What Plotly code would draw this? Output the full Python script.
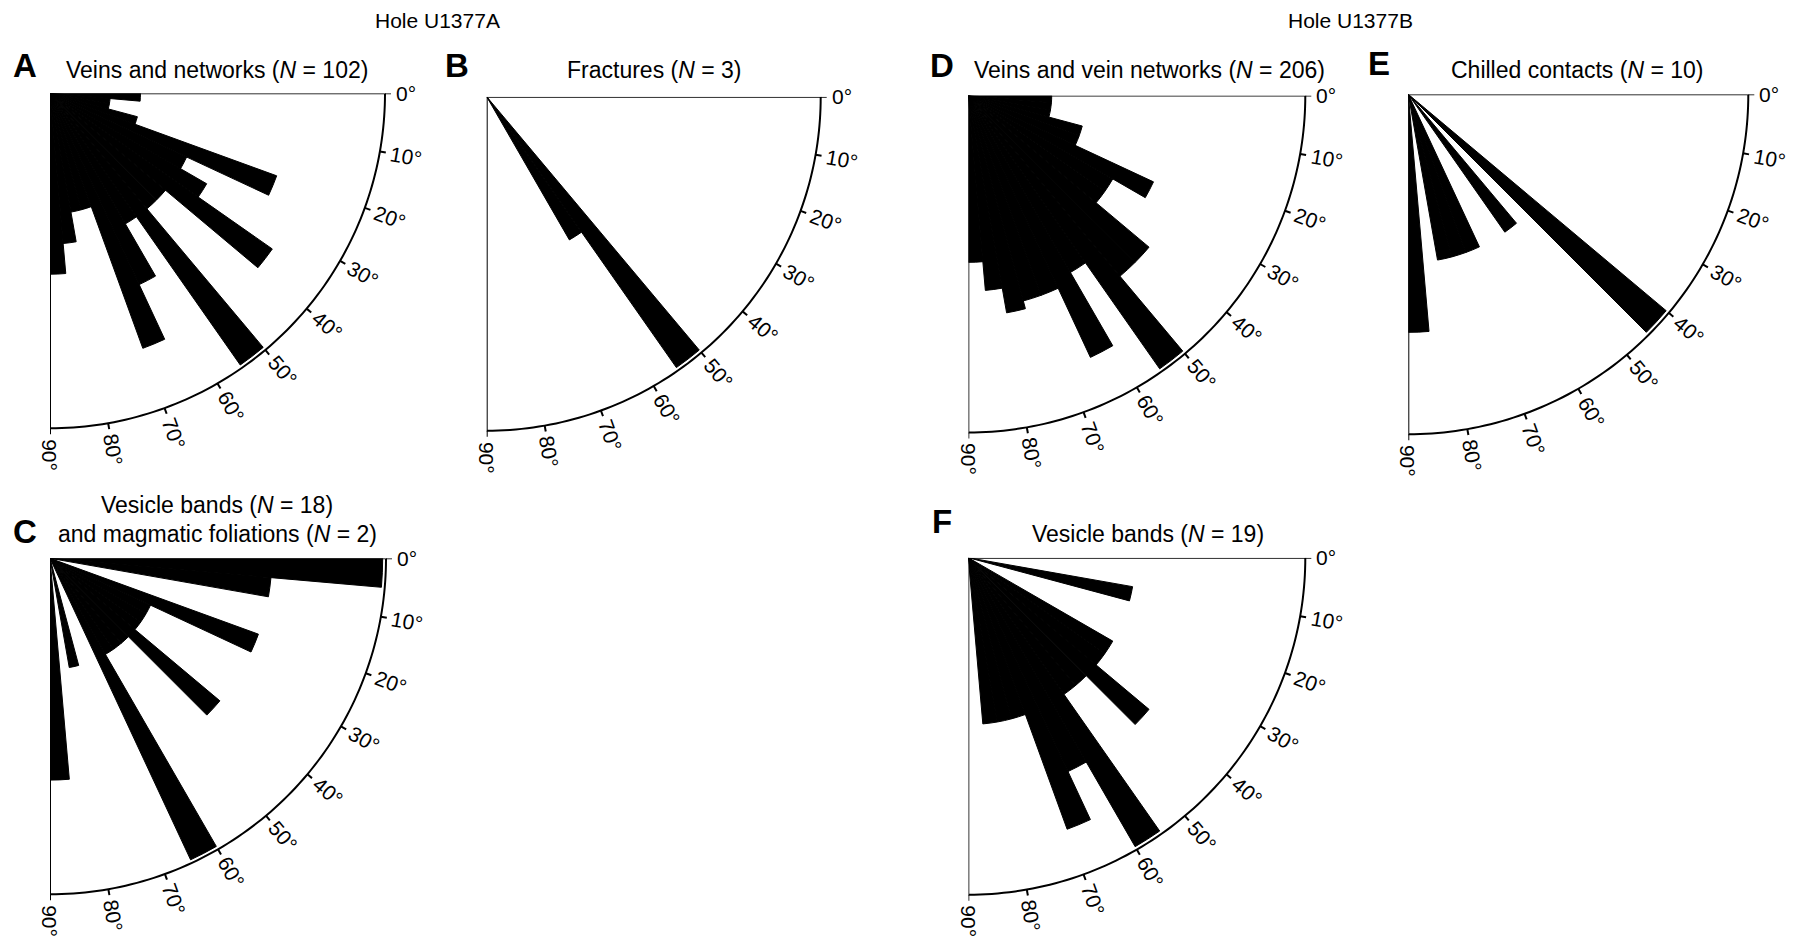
import math
import plotly.graph_objects as go

W, H = 1799, 941
FONT = "Liberation Sans, Arial, Helvetica, sans-serif"

# 5-degree dip bins, 0-90 degrees
bin_centers = [2.5, 7.5, 12.5, 17.5, 22.5, 27.5, 32.5, 37.5, 42.5,
               47.5, 52.5, 57.5, 62.5, 67.5, 72.5, 77.5, 82.5, 87.5]
BIN_WIDTH = 5
angle_ticks = [0, 10, 20, 30, 40, 50, 60, 70, 80, 90]
angle_tick_text = ["0°", "10°", "20°", "30°", "40°", "50°", "60°", "70°", "80°", "90°"]

# counts per bin
veins_a = [3, 2, 2, 3, 8, 5, 6, 9, 5, 5, 11, 5, 7, 9, 4, 4, 5, 6]
fractures_a = [0, 0, 0, 0, 0, 0, 0, 0, 0, 0, 2, 1, 0, 0, 0, 0, 0, 0]
vesicles_foliations_a = [3, 2, 0, 0, 2, 1, 1, 1, 2, 1, 1, 1, 3, 0, 0, 1, 0, 2]
veins_b = [2, 2, 2, 4, 4, 12, 8, 8, 16, 16, 32, 12, 24, 13, 13, 14, 11, 8]
chilled_b = [0, 0, 0, 0, 0, 0, 0, 0, 4, 0, 1, 0, 0, 1, 1, 1, 0, 2]
vesicles_b = [0, 0, 1, 0, 0, 0, 1, 1, 2, 1, 1, 4, 2, 3, 1, 1, 1, 0]

# Hole U1377A roses use a linear radius, Hole U1377B roses are equal-area
panels = [
    dict(letter="A", counts=veins_a, scale="linear",
         title=["Veins and networks (<i>N</i> = 102)"],
         cx=50.0, cy=93.3, R=335, title_xy=(217, 70), letter_xy=(25, 65)),
    dict(letter="B", counts=fractures_a, scale="linear",
         title=["Fractures (<i>N</i> = 3)"],
         cx=486.7, cy=96.7, R=334, title_xy=(654, 70), letter_xy=(457, 65)),
    dict(letter="C", counts=vesicles_foliations_a, scale="linear",
         title=["Vesicle bands (<i>N</i> = 18)", "and magmatic foliations (<i>N</i> = 2)"],
         cx=50.0, cy=558.3, R=336, title_xy=(217, 505), letter_xy=(25, 531)),
    dict(letter="D", counts=veins_b, scale="area",
         title=["Veins and vein networks (<i>N</i> = 206)"],
         cx=968.3, cy=95.5, R=337, title_xy=(1149, 70), letter_xy=(942, 65)),
    dict(letter="E", counts=chilled_b, scale="area",
         title=["Chilled contacts (<i>N</i> = 10)"],
         cx=1408.3, cy=94.3, R=340, title_xy=(1577, 70), letter_xy=(1379, 64)),
    dict(letter="F", counts=vesicles_b, scale="area",
         title=["Vesicle bands (<i>N</i> = 19)"],
         cx=968.3, cy=557.7, R=337, title_xy=(1148, 534), letter_xy=(942, 521)),
]

holes = [("Hole U1377A", 437, 21), ("Hole U1377B", 1350, 21)]
TICK_LEN = 6   # px, outward tick marks on the arc
OUTER_PAD = 8  # px of polar area kept beyond the arc for the ticks

arc_theta = list(range(0, 91))

fig = go.Figure()
annotations = []
layout_polars = {}


def px_to_paper(x, y):
    return x / W, 1 - y / H


for i, p in enumerate(panels):
    key = "polar" if i == 0 else f"polar{i + 1}"
    sub = "polar" if i == 0 else f"polar{i + 1}"
    if p["scale"] == "area":
        radii = [math.sqrt(c) for c in p["counts"]]
    else:
        radii = list(p["counts"])
    cx, cy, R = p["cx"], p["cy"], p["R"]
    r_arc = max(radii) * 1.01          # outer arc of the rose
    per_px = r_arc / R                 # radial units per pixel
    r_range = r_arc + OUTER_PAD * per_px
    r_tick = r_arc + TICK_LEN * per_px

    fig.add_trace(go.Barpolar(
        r=radii, theta=bin_centers, width=[BIN_WIDTH] * len(bin_centers),
        marker=dict(color="black", line=dict(color="black", width=1)),
        subplot=sub, showlegend=False, hoverinfo="skip",
    ))
    # frame: 0° radius, outer arc, 90° radius
    fig.add_trace(go.Scatterpolar(
        r=[0] + [r_arc] * len(arc_theta) + [0],
        theta=[0] + arc_theta + [90],
        mode="lines", line=dict(color="black", width=2),
        cliponaxis=False, subplot=sub, showlegend=False, hoverinfo="skip",
    ))
    # tick marks
    tick_r, tick_t = [], []
    for t in angle_ticks:
        tick_r += [r_arc, r_tick, None]
        tick_t += [t, t, None]
    fig.add_trace(go.Scatterpolar(
        r=tick_r, theta=tick_t, mode="lines",
        line=dict(color="black", width=2), cliponaxis=False,
        subplot=sub, showlegend=False, hoverinfo="skip",
    ))

    Rd = R + OUTER_PAD
    x0, y1 = px_to_paper(cx, cy)
    x1, y0 = px_to_paper(cx + Rd, cy + Rd)
    layout_polars[key] = dict(
        domain=dict(x=[x0, x1], y=[y0, y1]),
        sector=[270, 360],
        bgcolor="rgba(0,0,0,0)",
        bargap=0,
        radialaxis=dict(range=[0, r_range], visible=False),
        angularaxis=dict(
            rotation=0, direction="clockwise",
            showline=False, showgrid=False, ticks="",
            showticklabels=False,
        ),
    )

    # radial tick labels, rotated to read outward along each tick direction
    fs = 21
    for t, txt in zip(angle_ticks, angle_tick_text):
        n_digits = len(txt) - 1
        w = n_digits * 0.556 * fs + 0.4 * fs
        d = R + 11 + w / 2
        a = math.radians(t)
        ax, ay = px_to_paper(cx + d * math.cos(a), cy + d * math.sin(a))
        annotations.append(dict(
            x=ax, y=ay, xref="paper", yref="paper", text=txt, showarrow=False,
            textangle=t, xanchor="center", yanchor="middle",
            font=dict(family=FONT, size=fs, color="black"),
        ))

    # panel title (one or two lines)
    tx, ty = p["title_xy"]
    for k, line in enumerate(p["title"]):
        qx, qy = px_to_paper(tx, ty + 29 * k)
        annotations.append(dict(
            x=qx, y=qy, xref="paper", yref="paper", text=line, showarrow=False,
            xanchor="center", yanchor="middle",
            font=dict(family=FONT, size=23, color="black"),
        ))

    lx, ly = px_to_paper(*p["letter_xy"])
    annotations.append(dict(
        x=lx, y=ly, xref="paper", yref="paper", text=f"<b>{p['letter']}</b>",
        showarrow=False, xanchor="center", yanchor="middle",
        font=dict(family=FONT, size=33, color="black"),
    ))

for label, hx, hy in holes:
    qx, qy = px_to_paper(hx, hy)
    annotations.append(dict(
        x=qx, y=qy, xref="paper", yref="paper", text=label, showarrow=False,
        xanchor="center", yanchor="middle",
        font=dict(family=FONT, size=21, color="black"),
    ))

fig.update_layout(
    width=W, height=H,
    margin=dict(l=0, r=0, t=0, b=0),
    paper_bgcolor="white", plot_bgcolor="white",
    showlegend=False,
    annotations=annotations,
    **layout_polars,
)

fig.write_html("out.html")
